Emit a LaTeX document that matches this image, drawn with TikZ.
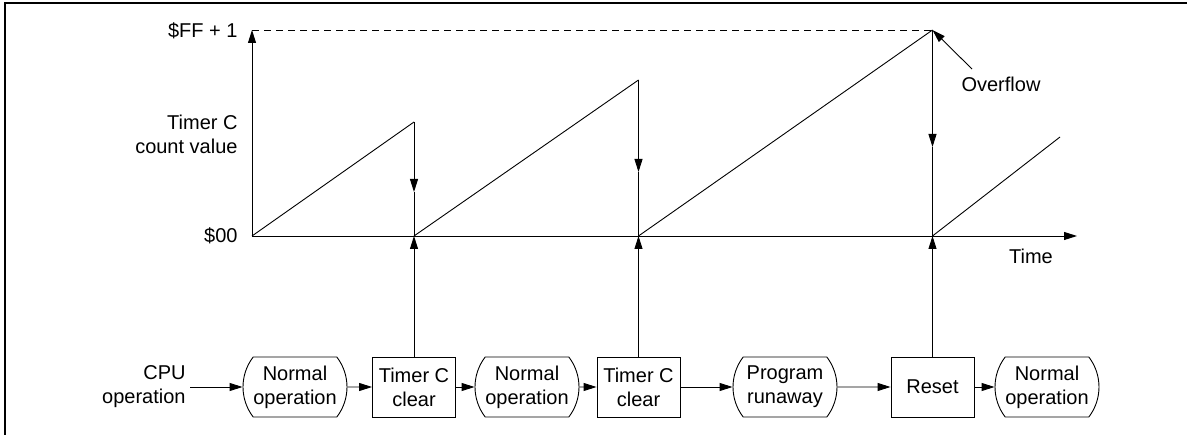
\documentclass[tikz,border=0pt]{standalone}
\usepackage{fontspec}
\setmainfont{Liberation Sans}
\usetikzlibrary{arrows.meta,shapes.misc}
\begin{document}
\begin{tikzpicture}[x=1pt,y=-1pt,line width=0.9pt,
    >={Triangle[length=13pt,width=8pt]},
    every node/.style={font=\fontsize{20}{24}\selectfont},
    opnode/.style={draw,rounded rectangle,rounded rectangle arc length=75,
      minimum width=104pt,minimum height=60pt,inner sep=0pt,align=center},
    clrnode/.style={draw,rectangle,minimum width=83pt,minimum height=60pt,
      inner sep=0pt,align=center},
    lbl/.style={align=right,inner sep=0pt}]
  \useasboundingbox (0,0) rectangle (1187,435);
  \draw[line width=1.2pt] (5,435) -- (5,3) -- (1187,3);
  % axes
  \coordinate (o) at (252,236);
  \coordinate (top) at (252,30);
  \coordinate (tend) at (1077,236);
  \draw[->] (o) -- (top);
  \draw[->] (o) -- (tend);
  \coordinate (c1) at (414,236);
  \coordinate (p1) at (414,122);
  \coordinate (m1) at (414,192);
  \coordinate (c2) at (638.5,236);
  \coordinate (p2) at (638.5,80);
  \coordinate (m2) at (638.5,172);
  \coordinate (c3) at (932.5,236);
  \coordinate (p3) at (932.5,30);
  \coordinate (m3) at (932.5,147);
  \coordinate (e4) at (1060,137);
  \draw[dash pattern=on 7pt off 5pt,line width=0.7pt] (top) -- (p3);
  % count value
  \draw (o) -- (p1);
  \draw[->] (p1) -- (m1);
  \draw (m1) -- (c1);
  \draw (c1) -- (p2);
  \draw[->] (p2) -- (m2);
  \draw (m2) -- (c2);
  \draw (c2) -- (p3);
  \draw[->] (p3) -- (m3);
  \draw (m3) -- (c3);
  \draw (c3) -- (e4);
  \node[lbl,anchor=east] (ff) at (238,31) {\$FF + 1};
  \node[lbl,anchor=east] (cnt) at (238,134) {Timer C\\count value};
  \node[lbl,anchor=east] (zero) at (238,236) {\$00};
  \node (time) at (1031,256) {Time};
  \node (ovf) at (1001,84) {Overflow};
  \coordinate (ovs) at (972,69);
  \draw[->] (ovs) -- (p3);
  % CPU operation
  \node[lbl,anchor=east,inner sep=4pt] (cpu) at (190,387) {CPU\\operation};
  \node[opnode] (n1) at (295,387) {Normal\\operation};
  \node[clrnode] (t1) at (414,387) {Timer C\\clear};
  \node[opnode] (n2) at (527,387) {Normal\\operation};
  \node[clrnode] (t2) at (638.5,387) {Timer C\\clear};
  \node[opnode] (pr) at (785,387) {Program\\runaway};
  \node[clrnode] (rs) at (932.5,387) {Reset};
  \node[opnode] (n3) at (1047,387) {Normal\\operation};
  \draw[->] (cpu) -- (n1);
  \draw[->] (n1) -- (t1);
  \draw[->] (t1) -- (n2);
  \draw[->] (n2) -- (t2);
  \draw[->] (t2) -- (pr);
  \draw[->] (pr) -- (rs);
  \draw[->] (rs) -- (n3);
  \draw[->] (t1) -- (c1);
  \draw[->] (t2) -- (c2);
  \draw[->] (rs) -- (c3);
\end{tikzpicture}
\end{document}
